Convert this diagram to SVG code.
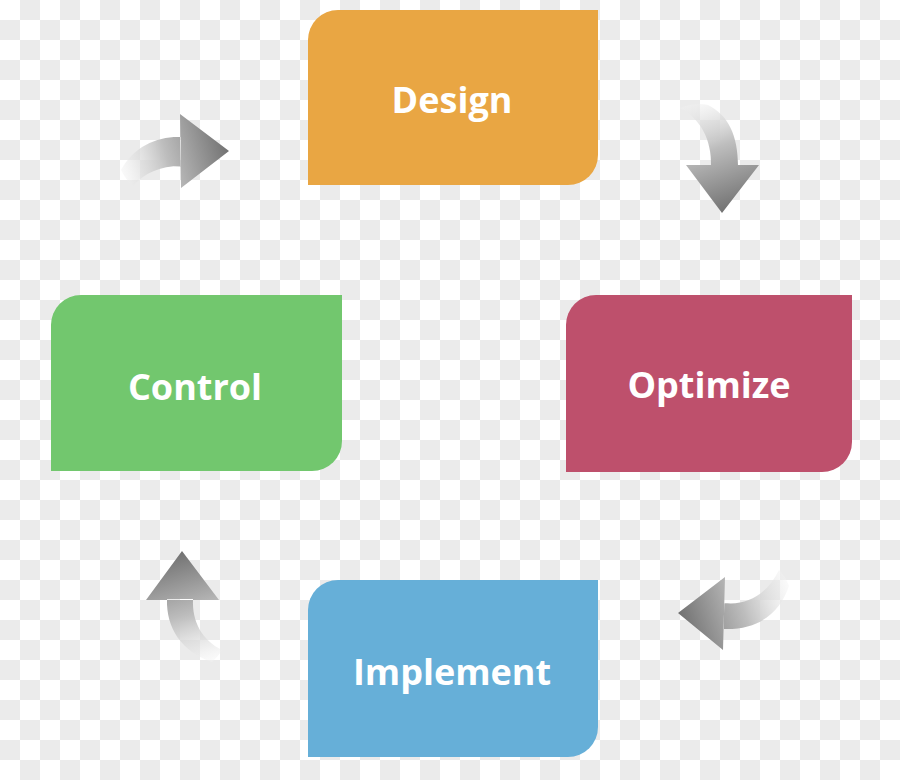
<svg xmlns="http://www.w3.org/2000/svg" width="900" height="780" viewBox="0 0 900 780">
  <style>
    .label { font-family: "Open Sans", "Liberation Sans", sans-serif; font-weight: bold; font-size: 36px; fill: #ffffff; text-anchor: middle; }
    .arrow { stroke: none; }
  </style>
  <defs>
    <pattern id="checker" x="0" y="0" width="40" height="40" patternUnits="userSpaceOnUse">
      <rect x="0" y="0" width="40" height="40" fill="#ffffff"/>
      <rect x="20" y="0" width="20" height="20" fill="#ebebeb"/>
      <rect x="0" y="20" width="20" height="20" fill="#ebebeb"/>
    </pattern>
    <linearGradient id="g1" gradientUnits="userSpaceOnUse" x1="122" y1="182" x2="229" y2="151">
      <stop offset="0" stop-color="#f4f4f4" stop-opacity="0.4"/>
      <stop offset="0.45" stop-color="#bdbdbd"/>
      <stop offset="1" stop-color="#727272"/>
    </linearGradient>
    <linearGradient id="g2" gradientUnits="userSpaceOnUse" x1="684" y1="104" x2="722" y2="213">
      <stop offset="0" stop-color="#f4f4f4" stop-opacity="0.4"/>
      <stop offset="0.45" stop-color="#bdbdbd"/>
      <stop offset="1" stop-color="#727272"/>
    </linearGradient>
    <linearGradient id="g3" gradientUnits="userSpaceOnUse" x1="786" y1="576" x2="678" y2="613">
      <stop offset="0" stop-color="#f4f4f4" stop-opacity="0.4"/>
      <stop offset="0.45" stop-color="#bdbdbd"/>
      <stop offset="1" stop-color="#727272"/>
    </linearGradient>
    <linearGradient id="g4" gradientUnits="userSpaceOnUse" x1="216" y1="660" x2="182" y2="551">
      <stop offset="0" stop-color="#f4f4f4" stop-opacity="0.4"/>
      <stop offset="0.45" stop-color="#bdbdbd"/>
      <stop offset="1" stop-color="#727272"/>
    </linearGradient>
  </defs>

  <rect x="0" y="0" width="900" height="780" fill="url(#checker)"/>

  <g id="connectors">
    <path class="arrow" fill="url(#g1)" d="M181,137 C158,136 134,146 121,170 C124,176 128,182 133,186 C144,173 160,166 181,166 Z M180,114 L229,151 L181,188 Z"/>
    <path class="arrow" fill="url(#g2)" d="M711,166 C712,140 700,118 680,108 C690,104 700,103 708,105 C728,115 738,135 738,166 Z M686,165 L759,165 L722,213 Z"/>
    <path class="arrow" fill="url(#g3)" d="M724,603 C748,606 768,593 779,570 C783,574 787,580 789,586 C780,612 760,630 724,629 Z M725,577 L678,613 L723,650 Z"/>
    <path class="arrow" fill="url(#g4)" d="M167,599 C166,628 182,652 212,662 C216,658 220,654 222,650 C202,640 192,622 193,599 Z M146,600 L182,551 L219,600 Z"/>
  </g>

  <g id="node-design">
    <path fill="#e9a643" d="M338,10 H598 V155 A30,30 0 0 1 568,185 H308 V40 A30,30 0 0 1 338,10 Z"/>
    <text class="label" x="452" y="113">Design</text>
  </g>

  <g id="node-optimize">
    <path fill="#be506c" d="M596,295 H852 V442 A30,30 0 0 1 822,472 H566 V325 A30,30 0 0 1 596,295 Z"/>
    <text class="label" x="709" y="398">Optimize</text>
  </g>

  <g id="node-implement">
    <path fill="#66afd8" d="M338,580 H598 V727 A30,30 0 0 1 568,757 H308 V610 A30,30 0 0 1 338,580 Z"/>
    <text class="label" x="452" y="685">Implement</text>
  </g>

  <g id="node-control">
    <path fill="#72c76e" d="M81,295 H342 V441 A30,30 0 0 1 312,471 H51 V325 A30,30 0 0 1 81,295 Z"/>
    <text class="label" x="195" y="400">Control</text>
  </g>
</svg>
